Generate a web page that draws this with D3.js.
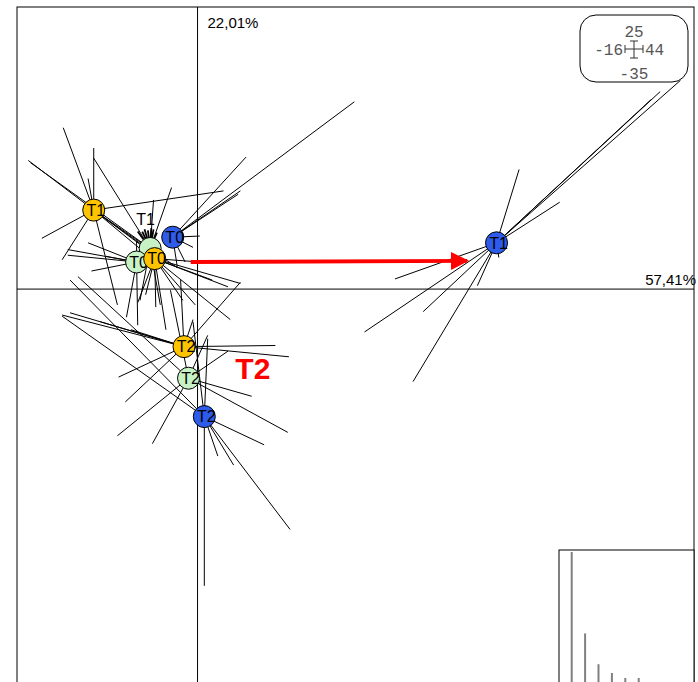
<!DOCTYPE html>
<html><head><meta charset="utf-8">
<script src="https://cdn.jsdelivr.net/npm/d3@7"></script>
<style>body{margin:0;background:#fff}svg{display:block}</style>
</head><body>
<script>
// ---- data (factorial map coordinates) ----
const xDomain = [-16, 44];
const yDomain = [-35, 25];
const axisLabels = ["57,41%", "22,01%"];
const eigenValues = [57.41, 22.01, 8.6, 4.8, 2.6, 2.6];
const seriesColors = {yellow: "#FFC400", green: "#C6F2C6", blue: "#2E5BEA"};

const centers = [
  {label: "T1", col: "green",  c: [-4.2, 3.6], showLabel: false},
  {label: "T0", col: "green",  c: [-5.4, 2.4], showLabel: true},
  {label: "T0", col: "yellow", c: [-3.8, 2.7], showLabel: true},
  {label: "T0", col: "blue",   c: [-2.2, 4.6], showLabel: true},
  {label: "T1", col: "yellow", c: [-9.2, 7.0], showLabel: true},
  {label: "T1", col: "blue",   c: [26.5, 4.1], showLabel: true},
  {label: "T2", col: "yellow", c: [-1.2, -5.1], showLabel: true},
  {label: "T2", col: "green",  c: [-0.8, -7.9], showLabel: true},
  {label: "T2", col: "blue",   c: [0.6, -11.3], showLabel: true}
];

const starGreenT1 = [[-5.3,5.1],[-4.9,5.1],[-3.9,5.3],[-3.6,5.0],[-4.4,5.2],[-4.7,5.3],[-4.1,5.4],[-2.3,9.0],[-9.2,11.6],[-3.9,7.9],[-14.8,11.2],[-5.1,-1.0],[-3.3,-1.4]];
const starGreenT0 = [[-11.5,3.5],[-11.5,3.0],[-9.7,4.1],[-9.4,1.6],[-5.3,-3.2],[-6.3,-2.5],[-5.4,4.3],[-8.1,2.9]];
const starYellowT0 = [[2.7,0.2],[1.3,0.8],[2.9,-2.7],[-1.3,-1.0],[-3.7,-1.6],[-5.3,-1.2],[0.2,2.4],[-2.8,-3.6],[-4.6,-0.5],[-0.2,-1.4],[3.8,0.5]];
const starBlueT0 = [[13.9,16.6],[4.3,11.7],[3.8,8.7],[3.6,8.4],[0.2,4.7],[-0.4,3.7],[-1.8,2.0],[-1.1,2.4]];
const starYellowT1 = [[-11.9,14.3],[-15.0,11.4],[-9.2,12.5],[-9.7,9.8],[2.3,8.7],[-13.8,4.5],[-12.0,2.6],[-7.1,-1.4],[-2.8,2.4],[-4.2,3.3],[-5.0,3.5],[-1.8,1.9]];
const starBlueT1 = [[28.5,10.6],[32.1,7.7],[40.2,16.8],[41.0,17.5],[42.8,18.5],[17.5,0.9],[20.0,-2.0],[14.8,-3.8],[19.1,-8.2],[24.8,0.3],[26.7,2.8]];
const starYellowT2 = [[6.9,-5.0],[8.1,-6.0],[-12.0,-2.3],[-11.3,-2.1],[-7.0,-7.8],[-6.4,-10.0],[-0.4,-2.7],[-1.5,0.8],[-5.9,-3.6],[-8.6,-2.9],[3.8,0.6]];
const starGreenT2 = [[-7.1,-13.0],[-4.0,-13.7],[4.8,-9.5],[8.0,-12.7],[2.7,-5.5],[-10.6,1.1],[0.9,-4.1],[-2.4,-0.1]];
const starBlueT2 = [[0.6,-26.3],[8.2,-21.3],[5.9,-13.8],[1.8,-14.8],[3.2,-15.6],[-0.4,-2.9],[0.9,-4.4],[-11.3,0.8],[-12.0,-2.4]];
const stars = [starGreenT1, starGreenT0, starYellowT0, starBlueT0, starYellowT1, starBlueT1, starYellowT2, starGreenT2, starBlueT2];

const arrowFrom = [-0.6, 2.4];
const arrowTo = [23.9, 2.5];
const redLabel = {text: "T2", pos: [4.9, -7.0]};
const floatLabel = {text: "T1", pos: [-4.6, 5.65]};
const scaleBox = {top: "25", left: "-16", right: "44", bottom: "-35"};

// ---- drawing ----
const W = 698, H = 682;
const svg = d3.select("body").append("svg").attr("width", W).attr("height", H);
const x = d3.scaleLinear().domain(xDomain).range([17, 694]);
const y = d3.scaleLinear().domain(yDomain).range([684, 7]);
const font = "'Liberation Sans', Arial, sans-serif";

// frame
svg.append("rect").attr("x", x(xDomain[0])).attr("y", y(yDomain[1]))
  .attr("width", x(xDomain[1]) - x(xDomain[0])).attr("height", y(yDomain[0]) - y(yDomain[1]))
  .attr("fill", "none").attr("stroke", "#000").attr("stroke-width", 1);

// axes through origin
svg.append("line").attr("x1", x(xDomain[0])).attr("x2", x(xDomain[1])).attr("y1", y(0)).attr("y2", y(0)).attr("stroke", "#000");
svg.append("line").attr("x1", x(0)).attr("x2", x(0)).attr("y1", y(yDomain[1])).attr("y2", y(yDomain[0])).attr("stroke", "#000");

svg.append("text").attr("x", x(0) + 10).attr("y", y(yDomain[1]) + 21).text(axisLabels[1])
  .attr("font-family", font).attr("font-size", 15);
svg.append("text").attr("x", x(xDomain[1]) + 2).attr("y", y(0) - 4).attr("text-anchor", "end").text(axisLabels[0])
  .attr("font-family", font).attr("font-size", 15);

// star lines
const gl = svg.append("g").attr("stroke", "#000").attr("stroke-width", 1);
centers.forEach((g, i) => {
  stars[i].forEach(p => {
    gl.append("line").attr("x1", x(g.c[0])).attr("y1", y(g.c[1])).attr("x2", x(p[0])).attr("y2", y(p[1]))
      .attr("stroke-width", (g.col === "green" && g.label === "T1" && p[1] > 4.9 && p[1] < 5.5) ? 1.8 : 1);
  });
});

// floating label T1 (label of the hidden light-green T1 centroid)
svg.append("text").attr("x", x(floatLabel.pos[0])).attr("y", y(floatLabel.pos[1])).attr("text-anchor", "middle")
  .attr("font-family", font).attr("font-size", 16).text(floatLabel.text);

// red arrow
const defs = svg.append("defs");
defs.append("marker").attr("id", "ah").attr("viewBox", "0 0 10 10").attr("refX", 9).attr("refY", 5)
  .attr("markerWidth", 5).attr("markerHeight", 4.5).attr("markerUnits", "strokeWidth").attr("orient", "auto")
  .append("path").attr("d", "M0,0L10,5L0,10Z").attr("fill", "#ff0000");
svg.append("line").attr("x1", x(arrowFrom[0])).attr("y1", y(arrowFrom[1])).attr("x2", x(arrowTo[0])).attr("y2", y(arrowTo[1]))
  .attr("stroke", "#ff0000").attr("stroke-width", 4).attr("marker-end", "url(#ah)");

// centroids
const gc = svg.append("g");
centers.forEach(g => {
  gc.append("circle").attr("cx", x(g.c[0])).attr("cy", y(g.c[1])).attr("r", 11)
    .attr("fill", seriesColors[g.col]).attr("stroke", "#000").attr("stroke-width", 1);
  if (g.showLabel) {
    gc.append("text").attr("x", x(g.c[0]) + 2).attr("y", y(g.c[1])).attr("dy", "0.36em").attr("text-anchor", "middle")
      .attr("font-family", font).attr("font-size", 16).attr("fill", "#000").text(g.label);
  }
});

svg.append("text").attr("x", x(redLabel.pos[0])).attr("y", y(redLabel.pos[1])).attr("dy", "0.36em").attr("text-anchor", "middle")
  .attr("font-family", font).attr("font-size", 30).attr("font-weight", "bold").attr("fill", "#ff0000").text(redLabel.text);

// scale box (top right)
const sb = svg.append("g");
sb.append("rect").attr("x", 580).attr("y", 15).attr("width", 108).attr("height", 67).attr("rx", 16)
  .attr("fill", "#fff").attr("stroke", "#000");
const mono = "'Liberation Mono', 'DejaVu Sans Mono', monospace";
const sbText = (tx, ty, anchor, s) => sb.append("text").attr("x", tx).attr("y", ty).attr("text-anchor", anchor)
  .attr("font-family", mono).attr("font-size", 16).attr("fill", "#555").text(s);
sbText(634, 37, "middle", scaleBox.top);
sbText(623, 55, "end", scaleBox.left);
sbText(645, 55, "start", scaleBox.right);
sbText(634, 79, "middle", scaleBox.bottom);
const cross = [[625,49,643,49],[634,41,634,58],[625,45,625,53],[643,45,643,53],[630,41,638,41],[630,58,638,58]];
cross.forEach(c => sb.append("line").attr("x1", c[0]).attr("y1", c[1]).attr("x2", c[2]).attr("y2", c[3]).attr("stroke", "#333"));

// eigenvalue inset (bottom right)
const ix0 = 559, iy0 = 550, iw = 135, ih = 134;
const eg = svg.append("g");
eg.append("rect").attr("x", ix0).attr("y", iy0).attr("width", iw).attr("height", ih).attr("fill", "#fff").attr("stroke", "#000");
const ex = d3.scaleBand().domain(d3.range(eigenValues.length)).range([ix0 + 6, ix0 + 6 + 13.4 * eigenValues.length]);
const ey = d3.scaleLinear().domain([0, eigenValues[0]]).range([iy0 + ih, iy0 + 2]);
eg.selectAll("line.b").data(eigenValues).enter().append("line")
  .attr("x1", (d, i) => ex(i) + ex.bandwidth() / 2).attr("x2", (d, i) => ex(i) + ex.bandwidth() / 2)
  .attr("y1", ey(0)).attr("y2", d => ey(d)).attr("stroke", "#808080").attr("stroke-width", 2);
</script>
</body></html>
